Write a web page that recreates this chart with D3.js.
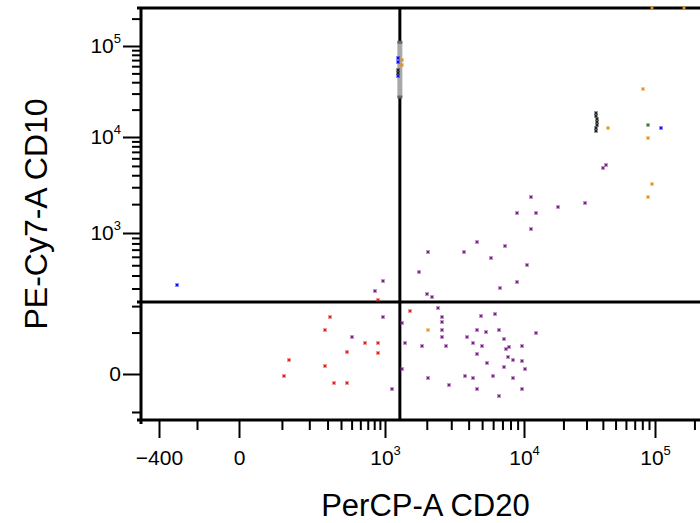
<!DOCTYPE html>
<html>
<head>
<meta charset="utf-8">
<script src="https://cdnjs.cloudflare.com/ajax/libs/d3/7.8.5/d3.min.js"></script>
<style>
  html, body { margin: 0; padding: 0; background: #fff; }
  svg { display: block; }
  text { font-family: "Liberation Sans", Arial, sans-serif; fill: #000; }
</style>
</head>
<body>
<svg id="visualisation" width="700" height="523"></svg>
<script>
// axis calibration (value -> pixel), biexponential-like display
var xAnchorVals = [-400, -200, 0, 1000, 10000, 100000];
var xAnchorPix  = [159, 197, 239, 385, 524, 655];
var yAnchorVals = [-200, 0, 1000, 10000, 100000];
var yAnchorPix  = [412, 374, 233, 137, 46];
var maxVal = 262144;

// tick values
var xMajorTicks = [-400, 0, 1000, 10000, 100000];
var yMajorTicks = [0, 1000, 10000, 100000];
var xMinorTicks = [-200, 100, 200, 300, 400, 500, 600, 700, 800, 900,
                   2000, 3000, 4000, 5000, 6000, 7000, 8000, 9000,
                   20000, 30000, 40000, 50000, 60000, 70000, 80000, 90000, 200000];
var yMinorTicks = [-200, 100, 200, 300, 400, 500, 600, 700, 800, 900,
                   2000, 3000, 4000, 5000, 6000, 7000, 8000, 9000,
                   20000, 30000, 40000, 50000, 60000, 70000, 80000, 90000, 200000];

// quadrant gate and the grey handle on it
var gateX = 1280, gateY = 220;
var handleY = [27500, 110000];

// events [PerCP-A CD20, PE-Cy7-A CD10]
var purpleEvents = [
  [42000, 5100], [39900, 4790], [11250, 2390], [29200, 2070], [18100, 1890],
  [8950, 1600], [12350, 1600], [11250, 1090], [4610, 830], [7300, 762],
  [3730, 670], [2030, 670], [5760, 581], [10490, 503], [1760, 434],
  [8950, 350], [953, 352], [6720, 301], [813, 283], [2000, 263],
  [2190, 246], [2390, 193], [953, 154], [501, 88], [1130, -60],
  [1325, 131], [1325, 11], [1405, 72], [2560, 153], [2560, 135],
  [2560, 108], [2560, 88], [1840, 62], [2750, 62], [2030, -16],
  [2910, -43], [3760, -8], [4300, -16], [4590, -60], [3920, 88],
  [4570, 108], [4900, 159], [4320, 72], [4590, 44], [6190, 165],
  [5370, 103], [6640, 108], [12350, 98], [7220, 81], [4960, 62],
  [7390, 55], [7840, 61], [9630, 62], [7710, 38], [8380, 30],
  [9630, 28], [5390, 24], [7220, 16], [10180, 10], [5960, -8],
  [8380, -16], [9630, -60], [6640, -94]
];
var redEvents = [
  [1510, 178], [316, 154], [284, 108], [661, 72], [871, 72], [451, 49],
  [871, 47], [122, 30], [284, 17], [106, -8], [345, -33], [451, -33], [871, 233]
];
var orangeEvents = [
  [95400, 262144], [167400, 262144], [80550, 33440], [43540, 12460], [87960, 9830],
  [95400, 3240], [87960, 2390], [2030, 108], [1325, 70150], [1325, 61810]
];
var greenEvents = [[87960, 13550]];
var blueEvents = [[111100, 12650], [-290, 324], [1240, 73800], [1240, 66700], [1240, 46800]];
var darkEvents = [
  [35500, 18350], [35500, 17010], [36300, 15770], [36300, 14610], [36300, 13550],
  [35500, 12560], [35500, 11640], [1240, 54500], [1240, 50500]
];

var tf = function(v) { return Math.asinh(v / 100); };
var xLin = d3.scaleLinear().domain(xAnchorVals.map(tf)).range(xAnchorPix);
var yLin = d3.scaleLinear().domain(yAnchorVals.map(tf)).range(yAnchorPix);
function xPos(v) { return xLin(tf(v)); }
function yPos(v) { return yLin(tf(v)); }

var vis = d3.select("#visualisation");
var LEFT = 141, BOTTOM = 420,
    TOP = yPos(maxVal), RIGHT = xPos(maxVal);

function label(sel, v) {
  sel.text(null);
  if (v >= 1000) {
    sel.append("tspan").text("10");
    sel.append("tspan").attr("font-size", 13).attr("dy", "-0.8em")
       .text(Math.round(Math.log10(v)));
  } else {
    sel.text(v < 0 ? "\u2212" + Math.abs(v) : v);
  }
}

// minor ticks
vis.append("g")
   .attr("transform", "translate(0," + BOTTOM + ")")
   .call(d3.axisBottom(xLin).tickValues(xMinorTicks.map(tf)).tickSize(10).tickFormat(""))
   .call(function(g) { g.select(".domain").remove(); })
   .selectAll("line").attr("stroke-width", 2);
vis.append("g")
   .attr("transform", "translate(" + LEFT + ",0)")
   .call(d3.axisLeft(yLin).tickValues(yMinorTicks.map(tf)).tickSize(9).tickFormat(""))
   .call(function(g) { g.select(".domain").remove(); })
   .selectAll("line").attr("stroke-width", 2);

// major ticks with labels
var xAx = vis.append("g")
   .attr("transform", "translate(0," + BOTTOM + ")")
   .call(d3.axisBottom(xLin).tickValues(xMajorTicks.map(tf)).tickSize(18).tickPadding(12))
   .attr("font-size", 21).attr("font-family", null);
xAx.select(".domain").remove();
xAx.selectAll("line").attr("stroke-width", 2);
xAx.selectAll(".tick text").each(function(d, i) { label(d3.select(this), xMajorTicks[i]); });

var yAx = vis.append("g")
   .attr("transform", "translate(" + LEFT + ",0)")
   .call(d3.axisLeft(yLin).tickValues(yMajorTicks.map(tf)).tickSize(18).tickPadding(2))
   .attr("font-size", 21).attr("font-family", null);
yAx.select(".domain").remove();
yAx.selectAll("line").attr("stroke-width", 2);
yAx.selectAll(".tick text").each(function(d, i) { label(d3.select(this), yMajorTicks[i]); });

// frame lines
vis.append("line").attr("x1", LEFT).attr("x2", LEFT).attr("y1", TOP - 1).attr("y2", BOTTOM + 4)
   .attr("stroke", "#000").attr("stroke-width", 3);
vis.append("line").attr("x1", LEFT - 4).attr("x2", RIGHT).attr("y1", BOTTOM).attr("y2", BOTTOM)
   .attr("stroke", "#000").attr("stroke-width", 3);
vis.append("line").attr("x1", LEFT - 4).attr("x2", RIGHT).attr("y1", TOP).attr("y2", TOP)
   .attr("stroke", "#000").attr("stroke-width", 3);

// quadrant gate
vis.append("line").attr("x1", xPos(gateX)).attr("x2", xPos(gateX)).attr("y1", TOP).attr("y2", BOTTOM)
   .attr("stroke", "#000").attr("stroke-width", 3);
vis.append("line").attr("x1", LEFT - 4).attr("x2", RIGHT).attr("y1", yPos(gateY)).attr("y2", yPos(gateY))
   .attr("stroke", "#000").attr("stroke-width", 3);
vis.append("rect")
   .attr("x", xPos(gateX) - 2.5).attr("width", 5)
   .attr("y", yPos(handleY[1])).attr("height", yPos(handleY[0]) - yPos(handleY[1]))
   .attr("fill", "#a8a8a8");
vis.selectAll("rect.cap").data(handleY).enter().append("rect")
   .attr("x", xPos(gateX) - 2.5).attr("width", 5)
   .attr("y", function(d) { return yPos(d) - 1.5; }).attr("height", 3)
   .attr("fill", "#666");

// events
function drawEvents(data, color) {
  var g = vis.append("g");
  g.selectAll("rect.halo").data(data).enter().append("rect")
     .attr("x", function(d) { return Math.round(xPos(d[0])) - 2; })
     .attr("y", function(d) { return Math.round(yPos(d[1])) - 2; })
     .attr("width", 4).attr("height", 4)
     .attr("fill", color).attr("fill-opacity", 0.45);
  g.selectAll("rect.core").data(data).enter().append("rect")
     .attr("x", function(d) { return Math.round(xPos(d[0])) - 1; })
     .attr("y", function(d) { return Math.round(yPos(d[1])) - 1; })
     .attr("width", 2).attr("height", 2)
     .attr("fill", color);
}
drawEvents(purpleEvents, "#7a2088");
drawEvents(redEvents, "#e01e1e");
drawEvents(orangeEvents, "#e8901c");
drawEvents(greenEvents, "#3c6e3c");
drawEvents(blueEvents, "#0a0aff");
drawEvents(darkEvents, "#222");

// axis titles
vis.append("text")
   .attr("x", (LEFT + RIGHT) / 2).attr("y", 516)
   .attr("text-anchor", "middle").attr("font-size", 31)
   .text("PerCP-A CD20");
vis.append("text")
   .attr("transform", "translate(47," + (TOP + BOTTOM) / 2 + ") rotate(-90)")
   .attr("text-anchor", "middle").attr("font-size", 32)
   .text("PE-Cy7-A CD10");
</script>
</body>
</html>
